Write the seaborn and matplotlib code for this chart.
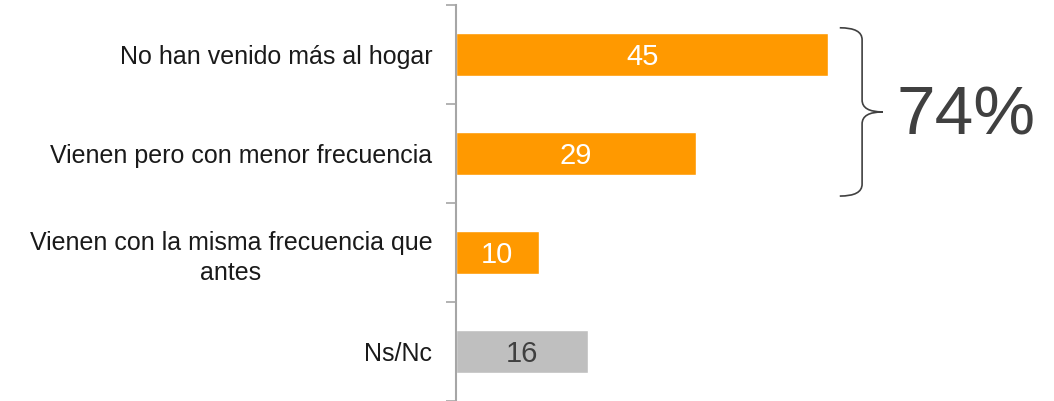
import numpy as np
import pandas as pd
import matplotlib
matplotlib.use("Agg")
import matplotlib.pyplot as plt
from matplotlib.path import Path
from matplotlib.patches import PathPatch
from matplotlib.ticker import FixedLocator
import seaborn as sns

categorias = [
    "No han venido más al hogar",
    "Vienen pero con menor frecuencia",
    "Vienen con la misma frecuencia que\nantes",
    "Ns/Nc",
]
valores = [45, 29, 10, 16]
colores = ["#FF9900", "#FF9900", "#FF9900", "#BFBFBF"]
colores_texto = ["white", "white", "white", "#404040"]

df = pd.DataFrame({"categoria": categorias, "valor": valores})

sns.set_theme(style="white")
plt.rcParams["font.family"] = ["Liberation Sans", "DejaVu Sans"]

fig = plt.figure(figsize=(10.54, 4.01), dpi=100)
ax = fig.add_axes([0.4326, 0.0, 0.5674, 0.9875])

sns.barplot(data=df, x="valor", y="categoria", hue="categoria", palette=colores,
            legend=False, width=0.43, ax=ax, saturation=1)

ax.set_xlim(0, 72.3)
ax.set_ylim(3.5, -0.5)
ax.set_xlabel("")
ax.set_ylabel("")
ax.set_xticks([])

# etiquetas de categorias
ax.set_yticks(range(len(categorias)))
ax.set_yticklabels(categorias, fontsize=18, color="#1a1a1a", multialignment="center",
                   linespacing=1.3)
ax.tick_params(axis="y", which="major", length=0, pad=17)
ax.yaxis.set_minor_locator(FixedLocator(np.arange(-0.5, len(categorias), 1.0)))
ax.tick_params(axis="y", which="minor", left=True, length=7, width=1.2, color="#A6A6A6")

for s in ["top", "right", "bottom"]:
    ax.spines[s].set_visible(False)
ax.spines["left"].set_color("#A6A6A6")
ax.spines["left"].set_linewidth(1.5)

# valores dentro de las barras
for i, (v, c) in enumerate(zip(valores, colores_texto)):
    ax.text(v / 2, i + 0.03, str(v), ha="center", va="center", fontsize=21, color=c)

# llave y total
total = valores[0] + valores[1]
x0 = max(valores) + 1.4
xm = x0 + 2.7
xp = xm + 2.5
y_top, y_bot, y_mid = -0.27, 1.43, 0.58
r = 0.12
verts = [
    (x0, y_top), (xm, y_top), (xm, y_top + r),
    (xm, y_mid - r), (xm, y_mid), (xp, y_mid),
    (xm, y_mid), (xm, y_mid + r),
    (xm, y_bot - r), (xm, y_bot), (x0, y_bot),
]
codes = [Path.MOVETO, Path.CURVE3, Path.CURVE3,
         Path.LINETO, Path.CURVE3, Path.CURVE3,
         Path.CURVE3, Path.CURVE3,
         Path.LINETO, Path.CURVE3, Path.CURVE3]
ax.add_patch(PathPatch(Path(verts, codes), fill=False, edgecolor="#404040",
                       linewidth=1.2, clip_on=False))
ax.text(xp + 1.6, y_mid + 0.05, f"{total}%", ha="left", va="center",
        fontsize=50, color="#404040")

fig.savefig("out.png", dpi=100)
